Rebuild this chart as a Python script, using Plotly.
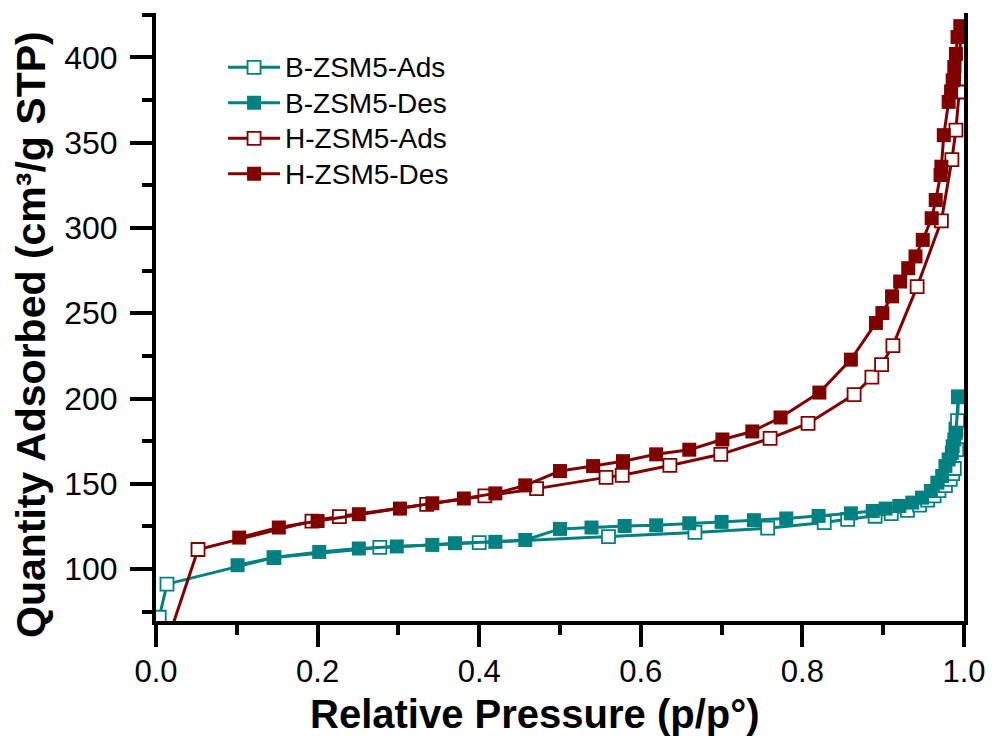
import plotly.graph_objects as go

# ---------------- data ----------------
b_ads_x = [0.004, 0.0136, 0.146, 0.277, 0.400, 0.560, 0.667, 0.757, 0.827, 0.856,
           0.890, 0.910, 0.930, 0.945, 0.955, 0.963, 0.969, 0.977, 0.983, 0.986,
           0.988, 0.991, 0.990, 0.992, 0.993]
b_ads_y = [71.8, 91.2, 106.8, 112.7, 115.6, 119.1, 121.5, 124.0, 127.3, 129.2,
           131.0, 132.5, 134.5, 137.5, 140.5, 143.0, 146.0, 149.0, 152.6, 156.0,
           159.0, 170.0, 182.0, 187.0, 201.0]

b_des_x = [0.993, 0.990, 0.988, 0.986, 0.985, 0.981, 0.977, 0.973, 0.967, 0.959,
           0.948, 0.936, 0.920, 0.903, 0.887, 0.860, 0.820, 0.780, 0.740, 0.700,
           0.660, 0.619, 0.580, 0.539, 0.500, 0.457, 0.420, 0.370, 0.342, 0.298,
           0.251, 0.202, 0.146, 0.101]
b_des_y = [201.0, 180.0, 176.0, 172.0, 168.2, 164.3, 160.4, 154.6, 150.7, 145.8,
           141.9, 139.0, 137.0, 135.5, 134.1, 132.7, 131.2, 129.7, 128.7, 127.7,
           126.9, 125.7, 125.3, 124.4, 123.6, 117.1, 116.0, 115.2, 114.2, 113.3,
           112.1, 110.1, 106.8, 102.3]

h_ads_x = [0.010, 0.052, 0.193, 0.227, 0.335, 0.407, 0.471, 0.557, 0.577, 0.636,
           0.699, 0.760, 0.807, 0.864, 0.886, 0.898, 0.912, 0.942, 0.972, 0.985,
           0.990, 0.994, 0.996]
h_ads_y = [52.0, 111.5, 128.2, 130.8, 138.0, 142.9, 147.2, 153.8, 155.0, 160.8,
           167.3, 176.6, 185.4, 202.3, 212.5, 219.9, 231.0, 265.6, 304.2, 340.0,
           357.3, 379.7, 418.0]

h_des_x = [0.996, 0.992, 0.990, 0.988, 0.986, 0.984, 0.981, 0.975, 0.972, 0.971,
           0.965, 0.960, 0.949, 0.940, 0.931, 0.921, 0.911, 0.899, 0.891, 0.860,
           0.821, 0.773, 0.738, 0.701, 0.660, 0.619, 0.578, 0.541, 0.500, 0.457,
           0.420, 0.381, 0.342, 0.302, 0.251, 0.200, 0.152, 0.103]
h_des_y = [418.0, 411.9, 402.0, 394.3, 386.5, 380.0, 373.9, 354.4, 335.9, 331.0,
           316.4, 305.7, 293.0, 283.3, 276.4, 268.6, 259.9, 250.1, 244.3, 222.8,
           203.5, 188.9, 180.7, 176.0, 170.0, 167.3, 163.3, 160.4, 157.5, 149.1,
           144.4, 141.4, 138.6, 135.5, 132.2, 128.2, 124.4, 118.5]

names = ["B-ZSM5-Ads", "B-ZSM5-Des", "H-ZSM5-Ads", "H-ZSM5-Des"]
x_ticks = [0.0, 0.2, 0.4, 0.6, 0.8, 1.0]
y_ticks = [100, 150, 200, 250, 300, 350, 400]
x_title = "Relative Pressure (p/p°)"
y_title = "Quantity Adsorbed (cm³/g STP)"

teal = "#008080"
red = "#800000"

fig = go.Figure()


def add(x, y, name, color, filled):
    fig.add_trace(go.Scatter(
        x=x, y=y, mode="lines+markers",
        name=f'<span style="font-size:28px">{name}</span>',
        line=dict(color=color, width=3),
        marker=dict(symbol="square", size=14 if filled else 13,
                    color=color if filled else "white",
                    line=dict(color=color, width=0 if filled else 1.8)),
    ))


add(b_ads_x, b_ads_y, names[0], teal, False)
add(b_des_x, b_des_y, names[1], teal, True)
add(h_ads_x, h_ads_y, names[2], red, False)
add(h_des_x, h_des_y, names[3], red, True)

font = "Liberation Sans, Arial, sans-serif"

fig.update_layout(
    width=993, height=738,
    margin=dict(l=148, r=37, t=5, b=125),
    plot_bgcolor="white", paper_bgcolor="white",
    font=dict(family=font, color="black"),
    showlegend=True,
    legend=dict(x=0.083, y=0.948, xanchor="left", yanchor="top",
                bgcolor="rgba(0,0,0,0)", font=dict(size=25, family=font),
                tracegroupgap=0, itemwidth=52),
)

fig.update_xaxes(
    range=[0, 1.0], tickvals=x_ticks, ticktext=[f"{v:.1f}" for v in x_ticks],
    ticks="outside", ticklen=22, tickwidth=4, tickcolor="black",
    showline=True, linewidth=4, linecolor="black",
    showgrid=False, zeroline=False, automargin=False,
    minor=dict(dtick=0.1, tick0=0, ticks="outside", ticklen=10, tickwidth=4, tickcolor="black"),
    tickfont=dict(size=31, family=font), ticklabelstandoff=-2,
)

fig.update_yaxes(
    range=[69.6, 426.0], tickvals=y_ticks,
    ticks="outside", ticklen=22, tickwidth=4, tickcolor="black",
    showline=True, linewidth=4, linecolor="black", mirror=True,
    showgrid=False, zeroline=False, automargin=False,
    minor=dict(dtick=25, tick0=0, ticks="outside", ticklen=10, tickwidth=4, tickcolor="black"),
    tickfont=dict(size=32, family=font), ticklabelstandoff=6,
)

fig.add_annotation(text=f"<b>{x_title}</b>", xref="paper", yref="paper",
                   x=0.469, y=-0.153, xanchor="center", yanchor="middle",
                   showarrow=False, font=dict(size=40, family=font, color="black"))
fig.add_annotation(text=f"<b>{y_title}</b>", xref="paper", yref="paper",
                   x=-0.1547, y=0.4704, xanchor="center", yanchor="middle", textangle=-90,
                   showarrow=False, font=dict(size=41, family=font, color="black"))

fig.write_html("out.html")
